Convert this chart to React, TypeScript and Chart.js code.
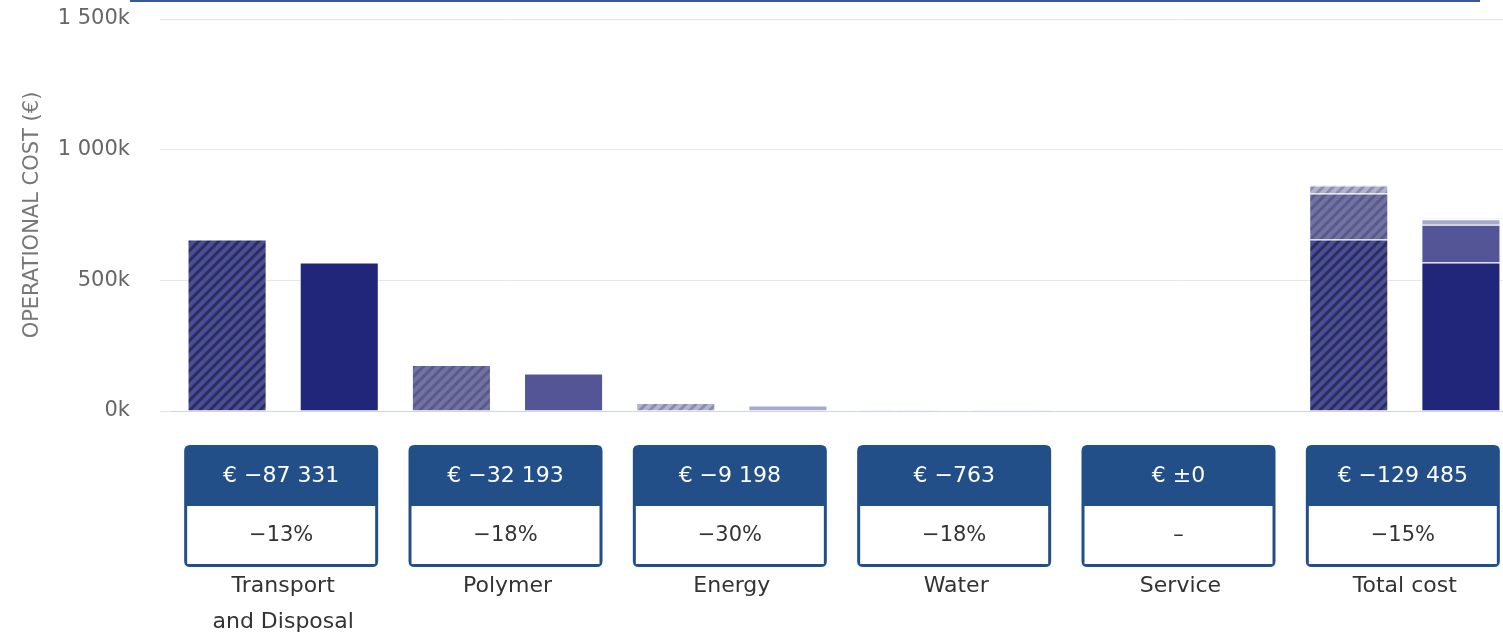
import React, { useEffect, useRef } from 'react';
import { Chart, registerables } from 'chart.js';

Chart.register(...registerables);

const categories: (string | string[])[] = [['Transport', 'and Disposal'], 'Polymer', 'Energy', 'Water', 'Service', 'Total cost'];
const components = ['Transport and Disposal', 'Polymer', 'Energy', 'Water', 'Service'];
const costBefore = [656000, 176000, 30500, 4239, 0];
const costAfter = [568669, 143807, 21302, 3476, 0];
const diffLabels = ['€ −87 331', '€ −32 193', '€ −9 198', '€ −763', '€ ±0', '€ −129 485'];
const pctLabels = ['−13%', '−18%', '−30%', '−18%', '–', '−15%'];
const yTickValues = [0, 500000, 1000000, 1500000];

const solidColors = ['#22267a', '#545597', '#a9a9cd', '#c4c4df', '#dadaec'];
const hatchBg = ['#4a4d98', '#7272a9', '#b2b2d3', '#cacae3', '#dedeee'];
const hatchStripe = ['#2c2d58', '#5a5b82', '#8c8ca9', '#a0a0b8', '#b0b0c4'];

const FONT = '"DejaVu Sans", Verdana, sans-serif';

function makePattern(bg: string, stripe: string): CanvasPattern | string {
  const c = document.createElement('canvas');
  c.width = 10;
  c.height = 10;
  const g = c.getContext('2d');
  if (!g) return bg;
  g.fillStyle = bg;
  g.fillRect(0, 0, 10, 10);
  g.strokeStyle = stripe;
  g.lineWidth = 3;
  g.beginPath();
  g.moveTo(0, 10); g.lineTo(10, 0);
  g.moveTo(-1, 1); g.lineTo(1, -1);
  g.moveTo(9, 11); g.lineTo(11, 9);
  g.stroke();
  const p = g.createPattern(c, 'repeat');
  return p || bg;
}

function roundRect(ctx: CanvasRenderingContext2D, x: number, y: number, w: number, h: number, r: number) {
  ctx.beginPath();
  ctx.moveTo(x + r, y);
  ctx.lineTo(x + w - r, y);
  ctx.quadraticCurveTo(x + w, y, x + w, y + r);
  ctx.lineTo(x + w, y + h - r);
  ctx.quadraticCurveTo(x + w, y + h, x + w - r, y + h);
  ctx.lineTo(x + r, y + h);
  ctx.quadraticCurveTo(x, y + h, x, y + h - r);
  ctx.lineTo(x, y + r);
  ctx.quadraticCurveTo(x, y, x + r, y);
  ctx.closePath();
}

const boxPlugin = {
  id: 'diffBoxes',
  afterDraw(chart: any) {
    const ctx: CanvasRenderingContext2D = chart.ctx;
    const xs = chart.scales.x;
    ctx.save();
    // top border line
    ctx.fillStyle = '#36579a';
    ctx.fillRect(130, 0, 1350, 2);
    const w = 194;
    const top = 445;
    const bottom = 567;
    const headH = 61;
    const bw = 3;
    for (let i = 0; i < categories.length; i++) {
      const cx = xs.getPixelForValue(i) - 2;
      const left = cx - w / 2;
      ctx.fillStyle = '#234f88';
      roundRect(ctx, left, top, w, bottom - top, 6);
      ctx.fill();
      ctx.fillStyle = '#ffffff';
      ctx.fillRect(left + bw, top + headH, w - 2 * bw, bottom - bw - (top + headH));
      ctx.textAlign = 'center';
      ctx.textBaseline = 'middle';
      ctx.fillStyle = '#ffffff';
      ctx.font = `22px ${FONT}`;
      ctx.fillText(diffLabels[i], cx, top + 31);
      ctx.fillStyle = '#333333';
      ctx.font = `21px ${FONT}`;
      ctx.fillText(pctLabels[i], cx, 536);
    }
    ctx.restore();
  },
};

export default function App() {
  const ref = useRef<HTMLCanvasElement | null>(null);

  useEffect(() => {
    if (!ref.current) return;
    const n = categories.length;
    const datasets: any[] = [];
    components.forEach((name, i) => {
      const before: (number | null)[] = new Array(n).fill(null);
      const after: (number | null)[] = new Array(n).fill(null);
      before[i] = costBefore[i];
      before[n - 1] = costBefore[i];
      after[i] = costAfter[i];
      after[n - 1] = costAfter[i];
      datasets.push({
        label: name + ' (current)',
        data: before,
        stack: 'before',
        backgroundColor: makePattern(hatchBg[i], hatchStripe[i]),
        borderColor: 'rgba(255,255,255,0.85)',
        borderWidth: 1,
      });
      datasets.push({
        label: name + ' (optimized)',
        data: after,
        stack: 'after',
        backgroundColor: solidColors[i],
        borderColor: 'rgba(255,255,255,0.85)',
        borderWidth: 1,
      });
    });

    const chart = new Chart(ref.current, {
      type: 'bar',
      data: { labels: categories as any, datasets },
      plugins: [boxPlugin],
      options: {
        responsive: false,
        animation: false,
        layout: { padding: { top: 19, left: 0, right: 0, bottom: 0 } },
        datasets: { bar: { categoryPercentage: 1.0, barPercentage: 0.705 } },
        plugins: { legend: { display: false }, tooltip: { enabled: false }, title: { display: false } },
        scales: {
          x: {
            type: 'category',
            stacked: true,
            offset: true,
            grid: { display: false, drawTicks: false },
            border: { display: true, color: '#ccd6eb', width: 1 },
            ticks: {
              color: '#333333',
              font: { family: FONT, size: 22, lineHeight: 1.6 },
              padding: 158,
              maxRotation: 0,
              autoSkip: false,
            },
            afterFit: (s: any) => {
              s.height = 221;
              s.paddingLeft = 0;
              s.paddingRight = 0;
            },
          },
          y: {
            stacked: true,
            min: 0,
            max: 1500000,
            afterBuildTicks: (s: any) => { s.ticks = yTickValues.map((v) => ({ value: v })); },
            grid: { color: '#e6e6e6', lineWidth: 1, drawTicks: true, tickLength: 11, tickColor: '#e6e6e6' },
            border: { display: false },
            ticks: {
              color: '#666666',
              font: { family: FONT, size: 21 },
              padding: 30,
              callback: (v: any) => {
                const k = Math.round(Number(v) / 1000);
                return String(k).replace(/\B(?=(\d{3})+(?!\d))/g, ' ') + 'k';
              },
            },
            title: {
              display: true,
              text: 'OPERATIONAL COST (€)',
              color: '#777777',
              font: { family: FONT, size: 21 },
              padding: { top: 20, bottom: 0 },
            },
            afterFit: (s: any) => {
              s.width = 171;
              s.paddingTop = 0;
              s.paddingBottom = 0;
            },
          },
        },
      },
    });
    return () => chart.destroy();
  }, []);

  return (
    <div style={{ position: 'fixed', left: 0, top: 0, width: 1503, height: 632, overflow: 'hidden', background: '#fff' }}>
      <canvas ref={ref} width={1517} height={632} style={{ display: 'block' }} />
    </div>
  );
}
